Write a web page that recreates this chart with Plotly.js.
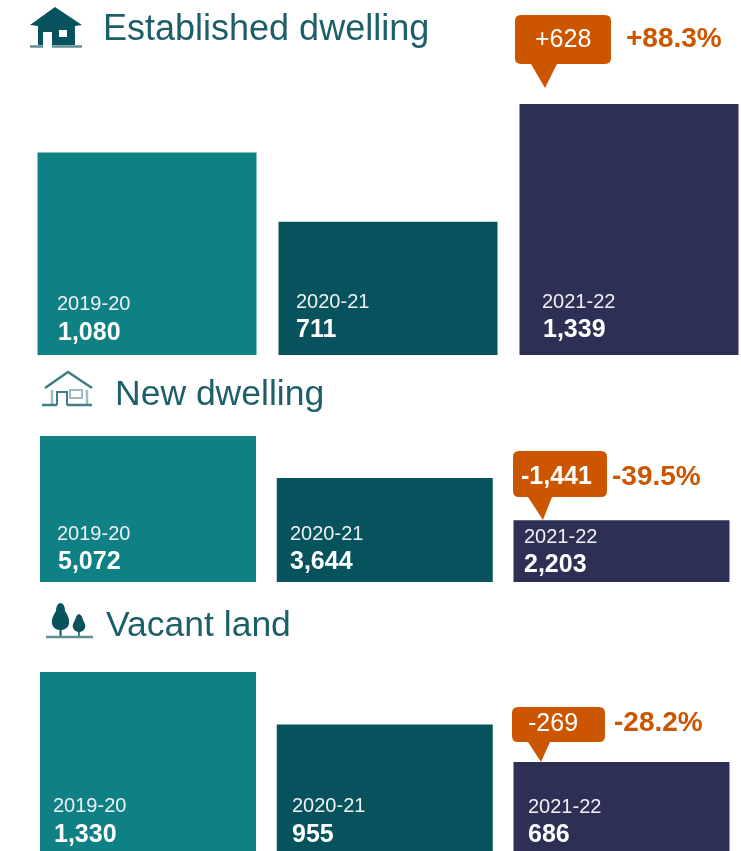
<!DOCTYPE html>
<html><head><meta charset="utf-8">
<script src="https://cdn.plot.ly/plotly-3.0.1.min.js"></script>
<style>html,body{margin:0;padding:0;background:#fff;overflow:hidden}#c{width:741px;height:851px;filter:blur(.5px)}</style>
</head><body><div id="c"></div>
<script>
const periods = ["2019-20","2020-21","2021-22"];
const establishedValues = [1080,711,1339];
const newDwellingValues = [5072,3644,2203];
const vacantLandValues = [1330,955,686];
const panelNames = ["Established dwelling","New dwelling","Vacant land"];
const changeLabels = ["+628","-1,441","-269"];
const percentLabels = ["+88.3%","-39.5%","-28.2%"];

const W=741,H=851;
const barColors=["#0f8084","#07535d","#2e2f55"];
const orange="#cc5500", titleCol="#1d5f68";
const FONT="Liberation Sans, Arial, sans-serif";
const px=x=>(x/W).toFixed(5), py=y=>(1-y/H).toFixed(5);

// layout of each panel, in page pixels
const panels=[
 {vals:establishedValues,top:104,bottom:355,lo:0,c0:147,pitch:241,w:219/241,ax:"",
  title:[102,28],yr:[[56,303],[295,301],[541,301]],val:[[57,331],[295,328],[542,328]],
  box:[515,611,15,64,531,557,545,88],chg:[563,38],pct:[625,38],ts:36},
 {vals:newDwellingValues,top:436,bottom:582,lo:102,c0:148,pitch:236.75,w:216/236.75,ax:"2",
  title:[114,393],yr:[[56,533],[289,533],[523,536]],val:[[57,560],[289,560],[523,563]],
  box:[513,607,451,497,528,552,543,520],chg:[556,475],pct:[611,475],ts:35.5},
 {vals:vacantLandValues,top:672,bottom:851,lo:49,c0:148,pitch:236.75,w:216/236.75,ax:"3",
  title:[105,624],yr:[[52,805],[291,805],[527,806]],val:[[53,833],[291,833],[527,833]],
  box:[512,605,707,742,528,550,541,762],chg:[553,722],pct:[613,722],ts:35.5}
];

const traces=[],annotations=[],shapes=[];
const layout={width:W,height:H,margin:{l:0,r:0,t:0,b:0},paper_bgcolor:"#fff",plot_bgcolor:"rgba(0,0,0,0)",showlegend:false,font:{family:FONT}};
function text(t,x,y,size,color,bold,anchor){
 annotations.push({text:bold?"<b>"+t+"</b>":t,xref:"paper",yref:"paper",x:+px(x),y:+py(y),xanchor:anchor||"left",yanchor:"middle",showarrow:false,
  font:{family:FONT,size:size,color:color},borderpad:0});
}
function path(d,fill,line,lw){shapes.push({type:"path",xref:"paper",yref:"paper",path:d,fillcolor:fill||"rgba(0,0,0,0)",line:{color:line||"rgba(0,0,0,0)",width:lw||0},layer:"above"});}
function poly(pts,close){return pts.map((p,i)=>(i?"L":"M")+px(p[0])+","+py(p[1])).join(" ")+(close===false?"":" Z");}

panels.forEach((p,i)=>{
 traces.push({type:"bar",x:periods,y:p.vals,width:p.w,xaxis:"x"+p.ax,yaxis:"y"+p.ax,marker:{color:barColors,line:{width:0}},hoverinfo:"skip"});
 const common={showgrid:false,zeroline:false,showticklabels:false,ticks:"",showline:false};
 layout["xaxis"+p.ax]=Object.assign({type:"category",categoryorder:"array",categoryarray:periods,domain:[0,1],anchor:"y"+p.ax,range:[-p.c0/p.pitch,(W-p.c0)/p.pitch]},common);
 layout["yaxis"+p.ax]=Object.assign({domain:[1-p.bottom/H,1-p.top/H],anchor:"x"+p.ax,range:[p.lo,Math.max(...p.vals)]},common);
 text(panelNames[i],p.title[0],p.title[1],p.ts,titleCol,false);
 periods.forEach((per,j)=>{
  text(per,p.yr[j][0],p.yr[j][1],20,"#f0f0f4",false);
  text(p.vals[j].toLocaleString("en-US"),p.val[j][0],p.val[j][1],25,"#ffffff",true);
 });
 const [l,r,t,b,b1,b2,tx,ty]=p.box,k=6;
 path(`M${px(l+k)},${py(t)} L${px(r-k)},${py(t)} Q${px(r)},${py(t)} ${px(r)},${py(t+k)} L${px(r)},${py(b-k)} Q${px(r)},${py(b)} ${px(r-k)},${py(b)} L${px(b2)},${py(b)} L${px(tx)},${py(ty)} L${px(b1)},${py(b)} L${px(l+k)},${py(b)} Q${px(l)},${py(b)} ${px(l)},${py(b-k)} L${px(l)},${py(t+k)} Q${px(l)},${py(t)} ${px(l+k)},${py(t)} Z`,orange);
 text(changeLabels[i],p.chg[0],p.chg[1],25,"#fff",i==1,"center");
 text(percentLabels[i],p.pct[0],p.pct[1],28,orange,true);
});

// icons
const dark="#07535d";
// solid house
path(poly([[55,7],[82,25],[75,26],[75,45],[38,45],[38,26],[30,25]]),dark);
path(poly([[43,32],[52,32],[52,46],[43,46]]),"#fff");
path(poly([[59,30],[67,30],[67,37],[59,37]]),"#fff");
path(poly([[30,46.5],[43,46.5]],false),null,"#5f8f94",2.5);
path(poly([[52,46.5],[82,46.5]],false),null,"#5f8f94",2.5);
// outline house
const teal="#3f7d84", pale="#9dbcbf";
path(poly([[45,388],[68,372],[92,388]],false),null,teal,2.5);
path(poly([[52,390],[52,404]],false),null,pale,2.5);
path(poly([[87,390],[87,404]],false),null,pale,2.5);
path(poly([[57,405],[57,392],[67,392],[67,405]],false),null,teal,2);
path(poly([[70,390],[82,390],[82,398],[70,398]]),null,pale,2);
path(poly([[42,405],[57,405]],false),null,teal,2.5);
path(poly([[67,405],[92,405]],false),null,teal,2.5);
// trees
path(`M${px(60.5)},${py(603)} Q${px(65)},${py(604)} ${px(65)},${py(611)} Q${px(70)},${py(618)} ${px(69)},${py(624)} Q${px(67)},${py(630)} ${px(60.5)},${py(630)} Q${px(54)},${py(630)} ${px(52)},${py(624)} Q${px(51)},${py(618)} ${px(56)},${py(611)} Q${px(56)},${py(604)} ${px(60.5)},${py(603)} Z`,dark);
path(`M${px(79)},${py(614)} Q${px(82)},${py(615)} ${px(83)},${py(620)} Q${px(86)},${py(625)} ${px(85)},${py(628)} Q${px(83)},${py(632)} ${px(79)},${py(632)} Q${px(75)},${py(632)} ${px(73)},${py(628)} Q${px(72)},${py(625)} ${px(75)},${py(620)} Q${px(76)},${py(615)} ${px(79)},${py(614)} Z`,dark);
path(poly([[60.5,628],[60.5,636]],false),null,dark,2);
path(poly([[79,630],[79,636]],false),null,dark,1.5);
path(poly([[46,637],[93,637]],false),null,"#5f8f94",2.5);

layout.annotations=annotations;layout.shapes=shapes;
Plotly.newPlot("c",traces,layout,{displayModeBar:false,staticPlot:true});
</script></body></html>
